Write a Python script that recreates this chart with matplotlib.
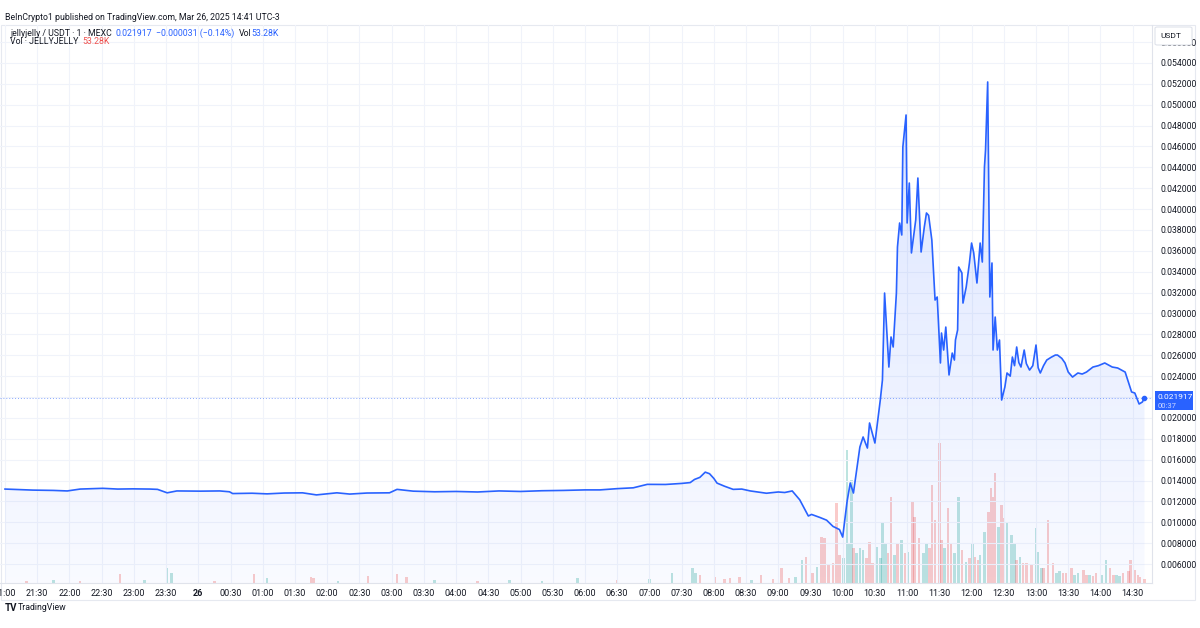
import numpy as np
import matplotlib
matplotlib.use("Agg")
import matplotlib.pyplot as plt
from matplotlib.patches import Rectangle, FancyBboxPatch

plt.rcParams['font.family'] = ['Liberation Sans Narrow', 'Roboto', 'DejaVu Sans']

# price, 1-minute chart jellyjelly/USDT (clock time, price)
price_times = [
    "21:00", "21:15", "21:26", "21:45", "21:58", "22:10", "22:31", "22:45", "22:59", "23:15",
    "23:22", "23:31", "23:40", "00:02", "00:20", "00:29", "00:32", "00:50", "01:04", "01:20",
    "01:37", "01:50", "02:09", "02:21", "02:37", "02:58", "03:05", "03:20", "03:40", "04:00",
    "04:20", "04:40", "05:00", "05:20", "05:40", "06:00", "06:14", "06:30", "06:45", "06:58",
    "07:15", "07:30", "07:38", "07:42", "07:47", "07:52", "07:56", "08:00", "08:03", "08:10",
    "08:18", "08:26", "08:34", "08:49", "09:00", "09:06", "09:13", "09:20", "09:28", "09:31",
    "09:39", "09:45", "09:51", "09:57", "10:00", "10:04", "10:07", "10:10", "10:16", "10:19",
    "10:23", "10:25", "10:30", "10:33", "10:35", "10:37", "10:39", "10:41", "10:43", "10:45",
    "10:47", "10:50", "10:51", "10:53", "10:55", "10:56", "10:59", "11:00", "11:02", "11:04",
    "11:08", "11:10", "11:13", "11:16", "11:18", "11:20", "11:23", "11:26", "11:28", "11:31",
    "11:32", "11:34", "11:36", "11:39", "11:42", "11:44", "11:45", "11:47", "11:48", "11:51",
    "11:52", "11:55", "11:58", "12:00", "12:02", "12:05", "12:08", "12:10", "12:12", "12:13",
    "12:15", "12:17", "12:19", "12:20", "12:22", "12:24", "12:26", "12:28", "12:31", "12:33",
    "12:36", "12:38", "12:40", "12:42", "12:44", "12:46", "12:49", "12:51", "12:54", "12:57",
    "13:00", "13:02", "13:04", "13:07", "13:10", "13:14", "13:18", "13:20", "13:24", "13:27",
    "13:30", "13:34", "13:39", "13:43", "13:47", "13:53", "13:58", "14:04", "14:11", "14:16",
    "14:23", "14:26", "14:29", "14:32", "14:36", "14:39", "14:41",
]
price_values = [
    0.01318, 0.01312, 0.01308, 0.01305, 0.01300, 0.01318, 0.01325, 0.01318, 0.01320, 0.01318,
    0.01315, 0.01282, 0.01300, 0.01298, 0.01300, 0.01292, 0.01275, 0.01278, 0.01272, 0.01280,
    0.01282, 0.01262, 0.01282, 0.01270, 0.01280, 0.01282, 0.01315, 0.01298, 0.01292, 0.01295,
    0.01290, 0.01300, 0.01295, 0.01302, 0.01305, 0.01310, 0.01310, 0.01322, 0.01330, 0.01363,
    0.01362, 0.01372, 0.01380, 0.01410, 0.01430, 0.01480, 0.01465, 0.01420, 0.01375, 0.01345,
    0.01315, 0.01318, 0.01300, 0.01278, 0.01290, 0.01285, 0.01300, 0.01215, 0.01060, 0.01075,
    0.01045, 0.01020, 0.00960, 0.00930, 0.00858, 0.01194, 0.01376, 0.01280, 0.01721, 0.01817,
    0.01711, 0.01951, 0.01759, 0.02008, 0.02171, 0.02363, 0.03196, 0.02842, 0.02487, 0.02775,
    0.02679, 0.03196, 0.03637, 0.03867, 0.03752, 0.04595, 0.04902, 0.03867, 0.04250, 0.03580,
    0.03896, 0.04298, 0.03589, 0.03829, 0.03963, 0.03940, 0.03704, 0.03129, 0.03158, 0.02526,
    0.02813, 0.02650, 0.02870, 0.02411, 0.02621, 0.02554, 0.02746, 0.02842, 0.03445, 0.03388,
    0.03100, 0.03254, 0.03484, 0.03675, 0.03580, 0.03292, 0.03675, 0.03493, 0.04404, 0.04566,
    0.05218, 0.03158, 0.03484, 0.02650, 0.02966, 0.02650, 0.02746, 0.02171, 0.02296, 0.02430,
    0.02400, 0.02583, 0.02500, 0.02679, 0.02530, 0.02487, 0.02650, 0.02520, 0.02458, 0.02500,
    0.02698, 0.02480, 0.02430, 0.02500, 0.02554, 0.02580, 0.02602, 0.02602, 0.02570, 0.02526,
    0.02439, 0.02391, 0.02430, 0.02420, 0.02439, 0.02487, 0.02500, 0.02526, 0.02487, 0.02478,
    0.02439, 0.02343, 0.02248, 0.02238, 0.02133, 0.02152, 0.021917,
]

# volume bars (K); u = up (green), d = down (red)
vol_times = [
    "21:20", "21:45", "22:10", "22:47", "23:10", "23:31", "23:35", "00:15", "00:52", "01:04",
    "01:45", "01:47", "02:10", "02:38", "03:05", "03:14", "03:40", "04:20", "04:50", "05:20",
    "05:53", "06:30", "07:00", "07:21", "07:40", "07:43", "07:47", "08:01", "08:10", "08:15",
    "08:24", "08:35", "08:44", "08:55", "09:03", "09:10", "09:16",
    "09:22", "09:26", "09:32", "09:36", "09:40", "09:43", "09:47", "09:51", "09:54", "09:57",
    "10:01", "10:04", "10:06", "10:08", "10:10", "10:13", "10:16", "10:19", "10:22", "10:25",
    "10:28", "10:32", "10:35", "10:37", "10:40", "10:42", "10:45", "10:48", "10:51", "10:55",
    "10:58", "11:01", "11:05", "11:07", "11:11", "11:15", "11:18", "11:21", "11:23", "11:26",
    "11:30", "11:32", "11:35", "11:38", "11:41", "11:44", "11:48", "11:51", "11:55", "11:58",
    "12:01", "12:03", "12:06", "12:08", "12:12", "12:16", "12:18", "12:20", "12:22", "12:25",
    "12:28", "12:30", "12:33", "12:37", "12:40", "12:42", "12:45", "12:48", "12:51", "12:56",
    "13:00", "13:02", "13:05", "13:07", "13:11", "13:16", "13:19", "13:22", "13:25", "13:28",
    "13:33", "13:36", "13:39", "13:44", "13:47", "13:50", "13:53", "13:56", "14:01", "14:05",
    "14:09", "14:12", "14:15", "14:18", "14:21", "14:26", "14:28", "14:32", "14:35", "14:37",
    "14:41",
]
vol_k = [
    26, 39, 26, 117, 39, 195, 130, 26, 117, 65,
    78, 65, 26, 91, 117, 78, 39, 26, 39, 26,
    65, 39, 52, 130, 195, 130, 104, 78, 52, 65,
    78, 39, 104, 52, 195, 65, 78,
    299, 338, 130, 208, 598, 585, 234, 260, 1040, 364,
    325, 1729, 520, 1339, 455, 390, 455, 429, 325, 533,
    260, 468, 325, 793, 520, 390, 1118, 364, 520, 559,
    390, 403, 1053, 858, 585, 390, 520, 455, 1274, 819,
    1820, 559, 455, 975, 520, 390, 1118, 429, 273, 325,
    520, 338, 300, 364, 663, 923, 1235, 1118, 1430, 728,
    1014, 845, 780, 624, 520, 300, 338, 260, 260, 234,
    715, 403, 200, 195, 819, 260, 130, 156, 130, 130,
    195, 110, 130, 169, 100, 104, 90, 130, 104, 299,
    195, 100, 104, 90, 130, 156, 299, 169, 100, 78,
    53.28,
]
vol_dir = "".join([
    "dudduuuddu",
    "dduddduduu",
    "uduuuudddd",
    "duddddu",
    "uddudddddd",
    "uuuuduuudd",
    "duuuuddudu",
    "duddduuddd",
    "ddudduudud",
    "udduuddddu",
    "dduuududdd",
    "uuuddduudd",
    "duuddudduu",
    "dduudddddd",
    "d",
])

x_tick_labels = ["21:00", "21:30", "22:00", "22:30", "23:00", "23:30", "26", "00:30",
                 "01:00", "01:30", "02:00", "02:30", "03:00", "03:30", "04:00", "04:30",
                 "05:00", "05:30", "06:00", "06:30", "07:00", "07:30", "08:00", "08:30",
                 "09:00", "09:30", "10:00", "10:30", "11:00", "11:30", "12:00", "12:30",
                 "13:00", "13:30", "14:00", "14:30"]
x_tick_times = ["21:00", "21:30", "22:00", "22:30", "23:00", "23:30", "00:00", "00:30",
                "01:00", "01:30", "02:00", "02:30", "03:00", "03:30", "04:00", "04:30",
                "05:00", "05:30", "06:00", "06:30", "07:00", "07:30", "08:00", "08:30",
                "09:00", "09:30", "10:00", "10:30", "11:00", "11:30", "12:00", "12:30",
                "13:00", "13:30", "14:00", "14:30"]
y_ticks = np.arange(0.006, 0.0561, 0.002)
last_price = 0.021917


def to_min(s):
    h, m = map(int, s.split(":"))
    return (h * 60 + m - 21 * 60) % 1440


t = np.array([to_min(s) for s in price_times], dtype=float)
p = np.array(price_values)
vt = np.array([to_min(s) for s in vol_times], dtype=float)
vk = np.array(vol_k, dtype=float)
vup = np.array([c == "u" for c in vol_dir])

W, H = 1200, 628
fig = plt.figure(figsize=(12, 6.28), dpi=100, facecolor="white")


def fx(px):
    return px / W


def fy(py):
    return 1 - py / H


pos = [0, fy(583), fx(1152), fy(25) - fy(583)]
ax = fig.add_axes(pos)
axv = ax.twinx()
ax.set_zorder(axv.get_zorder() + 1)
ax.patch.set_visible(False)
axv.patch.set_facecolor("white")

xlim = (-4.66, 1068.0)
ylim = (0.00418, 0.05764)

# volume
up_c, dn_c = "#26a69a", "#ef5350"
axv.bar(vt[vup], vk[vup], width=2.4, color=up_c, alpha=0.3, linewidth=0)
axv.bar(vt[~vup], vk[~vup], width=2.4, color=dn_c, alpha=0.3, linewidth=0)
axv.set_ylim(0, 7254)
axv.set_xlim(*xlim)
axv.set_yticks([])
for s in axv.spines.values():
    s.set_visible(False)

# gradient area under the price line
poly = ax.fill_between(t, p, ylim[0], color="none", linewidth=0)
grad = np.zeros((256, 1, 4))
grad[..., 0], grad[..., 1], grad[..., 2] = 0.16, 0.38, 1.0
grad[..., 3] = np.linspace(0.03, 0.17, 256).reshape(-1, 1)
im = ax.imshow(grad, extent=[xlim[0], xlim[1], ylim[0], 0.053], origin="lower",
               aspect="auto", zorder=1)
im.set_clip_path(poly.get_paths()[0], transform=ax.transData)

ax.plot(t, p, color="#2962ff", lw=1.2, zorder=3)
ax.plot(t[-1], p[-1], "o", ms=3, color="#2962ff", zorder=4)
ax.axhline(last_price, color="#2962ff", lw=0.7, ls=(0, (1, 2)), alpha=0.55, zorder=2)

ax.set_xlim(*xlim)
ax.set_ylim(*ylim)

# grid
for s in x_tick_times:
    ax.axvline(to_min(s), color="#f0f3fa", lw=0.8, zorder=0)
for v in y_ticks:
    ax.axhline(v, color="#f0f3fa", lw=0.8, zorder=0)

ax.set_xticks([to_min(s) for s in x_tick_times])
ax.set_xticklabels(x_tick_labels, fontsize=6.5, color="#131722")
for lab in ax.get_xticklabels():
    if lab.get_text() == "26":
        lab.set_fontweight("bold")
ax.yaxis.tick_right()
ax.set_yticks(y_ticks)
# the 0.022 label sits under the last-price tag, so it is left blank
ax.set_yticklabels(["" if abs(v - 0.022) < 1e-9 else f"{v:.6f}" for v in y_ticks],
                   fontsize=6.2, color="#131722")
ax.tick_params(axis="both", length=0)
ax.tick_params(axis="x", pad=4)
ax.tick_params(axis="y", pad=6)
for k in ("top", "left"):
    ax.spines[k].set_visible(False)
for k in ("bottom", "right"):
    ax.spines[k].set_color("#e0e3eb")
    ax.spines[k].set_linewidth(0.8)

# frame
fig.patches.append(Rectangle((fx(1), fy(600)), fx(1194), fy(25) - fy(600),
                             transform=fig.transFigure, fill=False,
                             edgecolor="#e6e9f0", lw=0.8, zorder=0))

# price scale header box
fig.patches.append(FancyBboxPatch((fx(1155), fy(45)), fx(37), fy(27) - fy(45),
                                  boxstyle="round,pad=0,rounding_size=0.002",
                                  transform=fig.transFigure, facecolor="white",
                                  edgecolor="#e0e3eb", lw=0.8, zorder=5))
fig.text(fx(1160), fy(36), "USDT", fontsize=6, color="#131722", va="center", zorder=6)

# last price label
fig.patches.append(Rectangle((fx(1155), fy(410)), fx(38), fy(391) - fy(410),
                             transform=fig.transFigure, facecolor="#2962ff",
                             edgecolor="none", zorder=5))
fig.text(fx(1158), fy(397), f"{last_price:.6f}", fontsize=6.0, color="white",
         va="center", zorder=6)
fig.text(fx(1158), fy(405.5), "00:37", fontsize=5.5, color="#c8d5ff",
         va="center", zorder=6)

# header texts, chained one after another
renderer = fig.canvas.get_renderer()


def chain(x_px, y_px, parts, size=6.3):
    for txt, col, gap in parts:
        tt = fig.text(fx(x_px), fy(y_px), txt, fontsize=size, color=col, va="center")
        x_px += tt.get_window_extent(renderer).width + gap


fig.text(fx(5), fy(17), "BeInCrypto1 published on TradingView.com, Mar 26, 2025 14:41 UTC-3",
         fontsize=6.3, color="#131722", va="center")
chain(10, 33, [("jellyjelly / USDT · 1 · MEXC", "#131722", 4),
               ("0.021917", "#2962ff", 4),
               ("\u22120.000031 (\u22120.14%)", "#2962ff", 4),
               ("Vol", "#131722", 0),
               ("53.28K", "#2962ff", 0)])
chain(10, 42, [("Vol · JELLYJELLY", "#131722", 4),
               ("53.28K", "#ef5350", 0)])

# footer logo
fig.text(fx(5), fy(608), "TV", fontsize=7, fontweight="bold", color="#131722", va="center")
fig.text(fx(18), fy(608), "TradingView", fontsize=6.3, color="#131722", va="center")

fig.savefig("out.png", dpi=100, facecolor="white")
